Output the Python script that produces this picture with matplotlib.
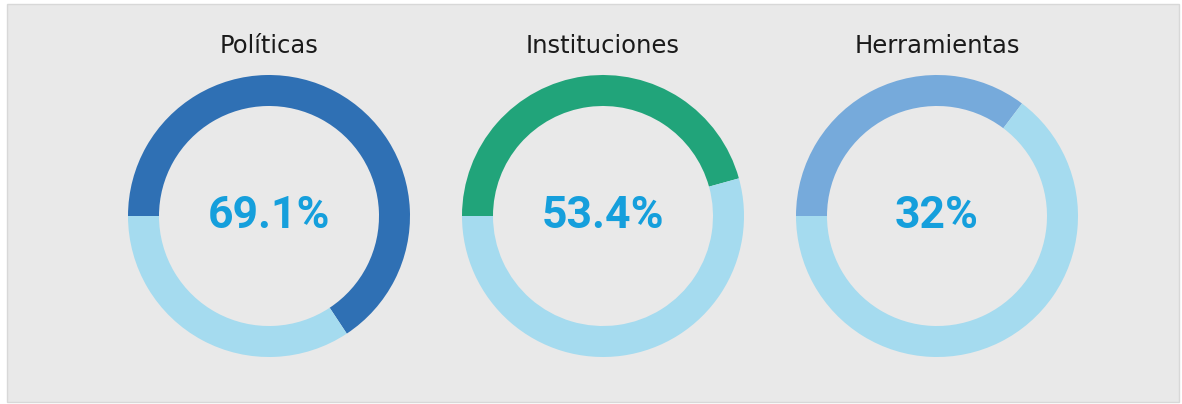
import matplotlib
matplotlib.use("Agg")
import matplotlib.pyplot as plt
from matplotlib.patches import Rectangle

categories = ["Políticas", "Instituciones", "Herramientas"]
# share of each ring drawn in the highlight colour
arc_shares = [65.7, 45.7, 35.3]
value_labels = ["69.1%", "53.4%", "32%"]
fill_colors = ["#2f70b4", "#21a47a", "#76aadb"]
rest_color = "#a5dbef"
text_color = "#159fdc"

W, H = 1182, 404
fig = plt.figure(figsize=(W / 100, H / 100), dpi=100)
fig.patch.set_facecolor("white")
ax = fig.add_axes([0, 0, 1, 1])

# background panel
ax.add_patch(Rectangle((7, 2), 1172, 398, facecolor="#e9e9e9",
                       edgecolor="#d8d8d8", linewidth=1, zorder=0))

centers_x = [269, 603, 937]
cy = H - 216
R = 141
ring = 31

for cx, cat, v, lab, col in zip(centers_x, categories, arc_shares, value_labels, fill_colors):
    ax.pie([v, 100 - v], colors=[col, rest_color], startangle=180,
           counterclock=False, radius=R, center=(cx, cy),
           wedgeprops=dict(width=ring, linewidth=0), frame=True)
    ax.text(cx, cy, lab, ha="center", va="center", fontsize=32,
            fontweight="bold", color=text_color, family="Roboto")
    ax.text(cx, H - 46, cat, ha="center", va="center", fontsize=17.5,
            color="#1a1a1a", family="DejaVu Sans")

ax.set_xlim(0, W)
ax.set_ylim(0, H)
ax.set_aspect("equal")
ax.axis("off")
fig.savefig("out.png", dpi=100, facecolor=fig.get_facecolor())
